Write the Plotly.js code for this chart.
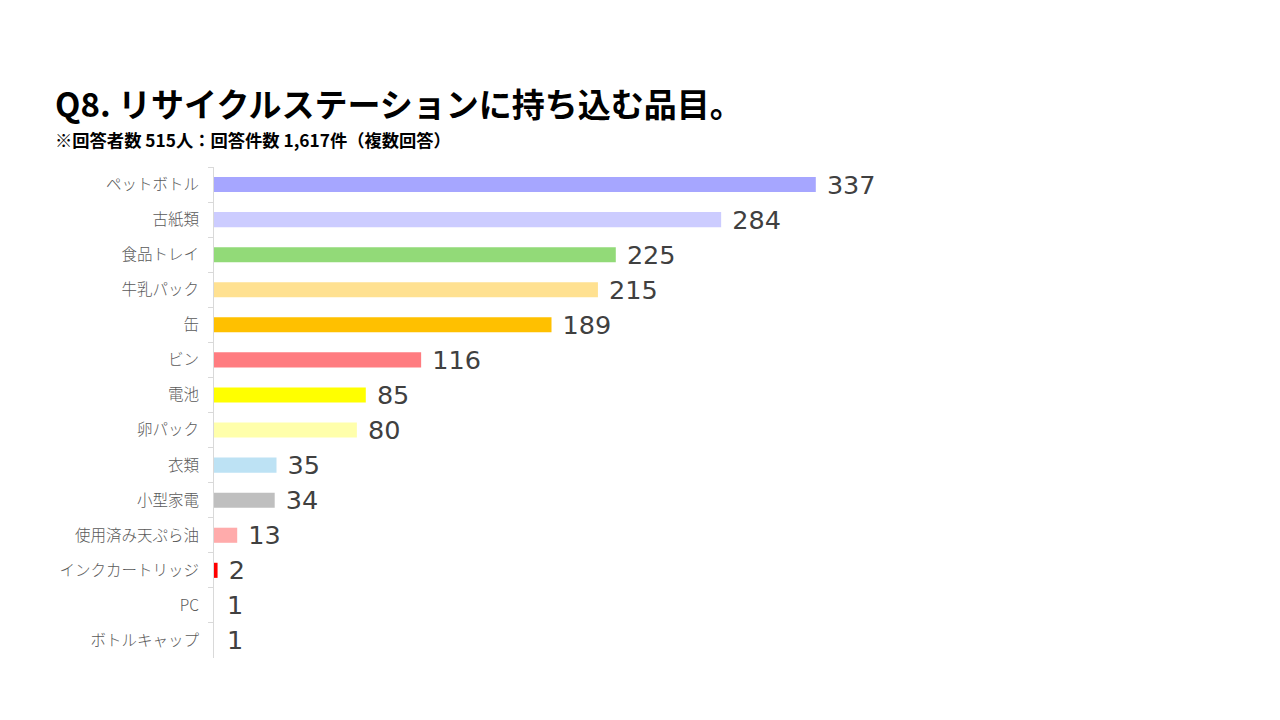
<!DOCTYPE html>
<html>
<head>
<meta charset="utf-8">
<script src="https://cdn.plot.ly/plotly-3.0.1.min.js"></script>
<style>html,body{margin:0;padding:0;background:#fff;}#chart{width:1280px;height:720px;}</style>
</head>
<body>
<div id="chart"></div>
<script>
const categories = ["ペットボトル","古紙類","食品トレイ","牛乳パック","缶","ビン","電池","卵パック","衣類","小型家電","使用済み天ぷら油","インクカートリッジ","PC","ボトルキャップ"];
const counts = [337,284,225,215,189,116,85,80,35,34,13,2,1,1];
const barColors = ["#A6A6FF","#CCCCFF","#92DA78","#FFE191","#FFC000","#FF7C80","#FFFF00","#FFFFAB","#BDE2F4","#BFBFBF","#FFABAB","#FF0000","rgba(255,255,255,0)","rgba(255,255,255,0)"];
const titleText = "Q8. リサイクルステーションに持ち込む品目。";
const subtitleText = "※回答者数 515人：回答件数 1,617件（複数回答）";

const trace = {
  type: "bar",
  orientation: "h",
  y: categories,
  x: counts,
  marker: {color: barColors},
  text: counts.map(v => " " + v),
  textposition: "outside",
  constraintext: "none",
  textfont: {family: "DejaVu Sans", size: 25.5, color: "#404040"},
  cliponaxis: false,
  hoverinfo: "none"
};

const layout = {
  width: 1280,
  height: 720,
  paper_bgcolor: "#ffffff",
  plot_bgcolor: "#ffffff",
  margin: {l: 214, r: 441, t: 167, b: 62},
  showlegend: false,
  bargap: 0.57,
  xaxis: {range: [0, 350], visible: false, fixedrange: true},
  yaxis: {
    type: "category",
    autorange: "reversed",
    showline: true,
    linecolor: "#D9D9D9",
    linewidth: 1,
    ticks: "outside",
    tickson: "boundaries",
    ticklen: 5,
    tickcolor: "#D9D9D9",
    showgrid: false,
    ticklabelstandoff: 11,
    tickfont: {family: "Noto Sans CJK JP", size: 15.5, color: "#595959", weight: 300}
  },
  annotations: [
    {xref: "paper", yref: "paper", x: -0.258, y: 1.130, xanchor: "left", yanchor: "middle",
     text: "<b>" + titleText + "</b>", showarrow: false,
     font: {family: "Noto Sans CJK JP", size: 33, color: "#000000"}},
    {xref: "paper", yref: "paper", x: -0.258, y: 1.055, xanchor: "left", yanchor: "middle",
     text: "<b>" + subtitleText + "</b>", showarrow: false,
     font: {family: "Noto Sans CJK JP", size: 17.3, color: "#000000"}}
  ]
};

Plotly.newPlot("chart", [trace], layout, {staticPlot: true});
</script>
</body>
</html>
